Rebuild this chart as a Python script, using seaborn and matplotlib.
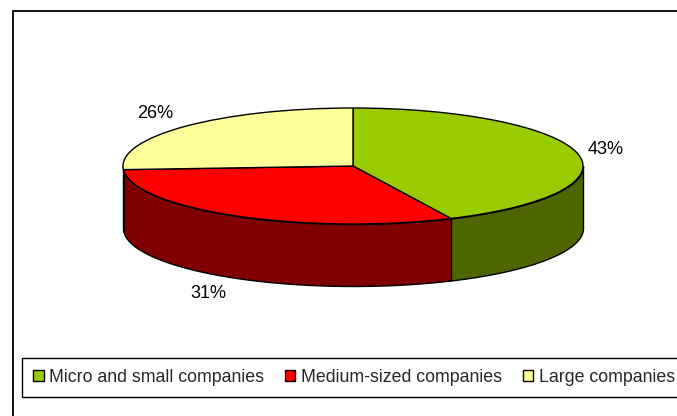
import numpy as np
import seaborn as sns
import matplotlib.pyplot as plt
from matplotlib.patches import Rectangle

# data
categories = ['Micro and small companies', 'Medium-sized companies', 'Large companies']
shares = [43, 31, 26]
top_colors = ['#99CC00', '#FF0000', '#FFFF99']
side_colors = ['#4D6600', '#800000', '#808050']

# layout in pixels
W, H = 677, 416
cx, cy = 353, 166
rx, ry = 230, 58
depth = 62

sns.set_theme(style='white')
plt.rcParams['font.family'] = ['Liberation Sans', 'DejaVu Sans']

fig = plt.figure(figsize=(W / 100, H / 100), dpi=100)
ax = fig.add_axes([0, 0, 1, 1])

# flat pie, squashed into an ellipse by the axes limits
wedges, _ = ax.pie(shares, colors=top_colors, startangle=90, counterclock=False,
                   wedgeprops={'edgecolor': 'black', 'linewidth': 1, 'zorder': 3})
ax.set_aspect('auto')
ax.set_xlim(-cx / rx, (W - cx) / rx)
ax.set_ylim(-(H - cy) / ry, cy / ry)
ax.set_frame_on(True)
for s in ax.spines.values():
    s.set_visible(False)

# side wall of the pie, only the front half shows
start = 90.0
d_units = depth / ry
for share, col in zip(shares, side_colors):
    end = start - share * 3.6
    hi = min(start, 0.0)
    lo = max(end, -180.0)
    if lo < hi:
        theta = np.radians(np.linspace(lo, hi, 80))
        x = np.cos(theta)
        y = np.sin(theta)
        ax.fill_between(x, y, y - d_units, facecolor=col, edgecolor='black',
                        linewidth=1, zorder=2)
    start = end

# percent labels
label_px = [(606, 150), (208, 294), (155, 113)]
for share, (px, py) in zip(shares, label_px):
    fig.text(px / W, 1 - py / H, f'{share}%', ha='center', va='center',
             fontsize=13, color='black')

# outer frame, runs off the right and bottom of the image
fig.add_artist(Rectangle((12.5 / W, -0.05), 1.0, 1 - 10.5 / H + 0.05, transform=fig.transFigure,
                         fill=False, edgecolor='black', linewidth=1.3))

# legend
leg = fig.legend(wedges, categories, ncol=3, loc='lower left',
                 bbox_to_anchor=(22 / W, 1 - 397 / H), borderaxespad=0,
                 fontsize=12.8, frameon=True, fancybox=False, framealpha=1,
                 edgecolor='black', handlelength=0.6, handleheight=0.6,
                 handletextpad=0.3, columnspacing=1.17, borderpad=0.62)
leg.get_frame().set_linewidth(1)

fig.savefig('out.png', dpi=100)
